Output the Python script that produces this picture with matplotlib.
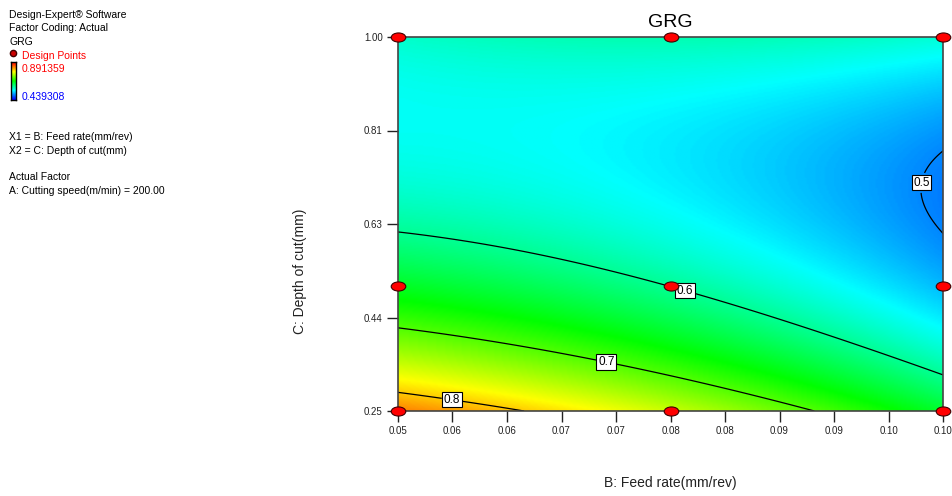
import numpy as np
import matplotlib
matplotlib.use('Agg')
import matplotlib.pyplot as plt
from matplotlib.colors import LinearSegmentedColormap
from matplotlib.path import Path

plt.rcParams['font.family'] = ['Liberation Sans', 'DejaVu Sans']

# design points (actual units) and GRG predicted at them
feed_levels = [0.05, 0.075, 0.10]
depth_levels = [0.25, 0.5, 1.0]
# rows: depth 0.25, 0.5, 1.0 ; cols: feed 0.05, 0.075, 0.10
grg_at_points = [[0.835, 0.753, 0.645],
                 [0.648, 0.600, 0.524],
                 [0.576, 0.587, 0.570]]

grg_min = 0.439308
grg_max = 0.891359
contour_levels = [0.5, 0.6, 0.7, 0.8]
# where the contour labels sit (feed, depth)
label_pos = [(0.0550, 0.282), (0.0692, 0.358), (0.0764, 0.499), (0.0988, 0.705)]

xtick_vals = [0.05, 0.055, 0.06, 0.065, 0.07, 0.075, 0.08, 0.085, 0.09, 0.095, 0.10]
xtick_labels = ['0.05', '0.06', '0.06', '0.07', '0.07', '0.08', '0.08', '0.09', '0.09', '0.10', '0.10']
ytick_vals = [0.25, 0.4375, 0.625, 0.8125, 1.0]
ytick_labels = ['0.25', '0.44', '0.63', '0.81', '1.00']


def coded(b, c):
    return (np.asarray(b) - 0.075) / 0.025, (np.asarray(c) - 0.625) / 0.375


def design_matrix(a, c):
    return np.column_stack([np.ones_like(a), a, c, a * c, a ** 2, c ** 2])


# quadratic response surface fitted to the design point values
B, C = np.meshgrid(feed_levels, depth_levels)
a, c = coded(B.ravel(), C.ravel())
coef, *_ = np.linalg.lstsq(design_matrix(a, c), np.array(grg_at_points).ravel(), rcond=None)

bg = np.linspace(0.05, 0.10, 300)
cg = np.linspace(0.25, 1.0, 300)
BG, CG = np.meshgrid(bg, cg)
ag, cgc = coded(BG.ravel(), CG.ravel())
Z = (design_matrix(ag, cgc) @ coef).reshape(BG.shape)

cmap = LinearSegmentedColormap.from_list('de', ['#0000ff', '#00ffff', '#00ff00', '#ffff00', '#ff0000'])

fig = plt.figure(figsize=(9.53, 4.96), dpi=100)
ax = fig.add_axes([398 / 953, 85 / 496, 545 / 953, 374 / 496])

ax.imshow(Z, extent=[0.05, 0.10, 0.25, 1.0], origin='lower', aspect='auto',
          cmap=cmap, vmin=grg_min, vmax=grg_max, interpolation='bilinear')
cs = ax.contour(BG, CG, Z, levels=contour_levels, colors='black', linewidths=0.9)
txts = ax.clabel(cs, fmt='%.1f', fontsize=8.5, inline=True, inline_spacing=2, manual=label_pos)
for t in txts:
    t.set_rotation(0)
    t.set_bbox(dict(facecolor='white', edgecolor='black', pad=1.2, lw=0.8))

# design points as red ellipses
circ = Path.unit_circle()
ell = Path(circ.vertices * np.array([1.6, 1.0]), circ.codes)
ax.scatter(B.ravel(), C.ravel(), marker=ell, s=110, color='#ff0000',
           edgecolors='#400000', linewidths=0.8, zorder=5, clip_on=False)

ax.set_xlim(0.05, 0.10)
ax.set_ylim(0.25, 1.0)
ax.set_xticks(xtick_vals)
ax.set_xticklabels(xtick_labels)
ax.set_yticks(ytick_vals)
ax.set_yticklabels(ytick_labels)
ax.tick_params(length=8, width=1, color='#222222', labelsize=7, pad=3, labelcolor='#222222')
for s in ax.spines.values():
    s.set_color('#444444')
    s.set_linewidth(1.2)

ax.set_title('GRG', fontsize=14, pad=7)
ax.set_xlabel('B: Feed rate(mm/rev)', fontsize=10, color='#222222')
ax.xaxis.set_label_coords(0.5, -0.175)
ax.set_ylabel('C: Depth of cut(mm)', fontsize=10, color='#222222', va='center')
ax.yaxis.set_label_coords(-0.18, 0.374)

# left info block
fs = 7.5
def put(x, y, s, **kw):
    fig.text(x / 953, 1 - y / 496, s, fontsize=fs, va='center', ha='left', **kw)

put(9, 15, 'Design-Expert® Software')
put(9, 28, 'Factor Coding: Actual')
put(9, 42, 'GRG')
fig.lines.append(plt.Line2D([13.5 / 953], [1 - 53 / 496], marker='o', ms=4.5, color='#cc0000',
                            mec='#400000', transform=fig.transFigure))
put(22, 56, 'Design Points', color='#ff0000')
put(22, 69, '%.6f' % grg_max, color='#ff0000')
put(22, 97, '%.6f' % grg_min, color='#0000ff')
put(9, 137, 'X1 = B: Feed rate(mm/rev)')
put(9, 151, 'X2 = C: Depth of cut(mm)')
put(9, 177, 'Actual Factor')
put(9, 191, 'A: Cutting speed(m/min) = 200.00')

cax = fig.add_axes([11 / 953, 1 - 100 / 496, 5 / 953, 38 / 496])
cax.imshow(np.linspace(1, 0, 50).reshape(-1, 1), aspect='auto', cmap=cmap)
cax.set_xticks([])
cax.set_yticks([])
for s in cax.spines.values():
    s.set_linewidth(1.0)

fig.savefig('out.png', dpi=100)
